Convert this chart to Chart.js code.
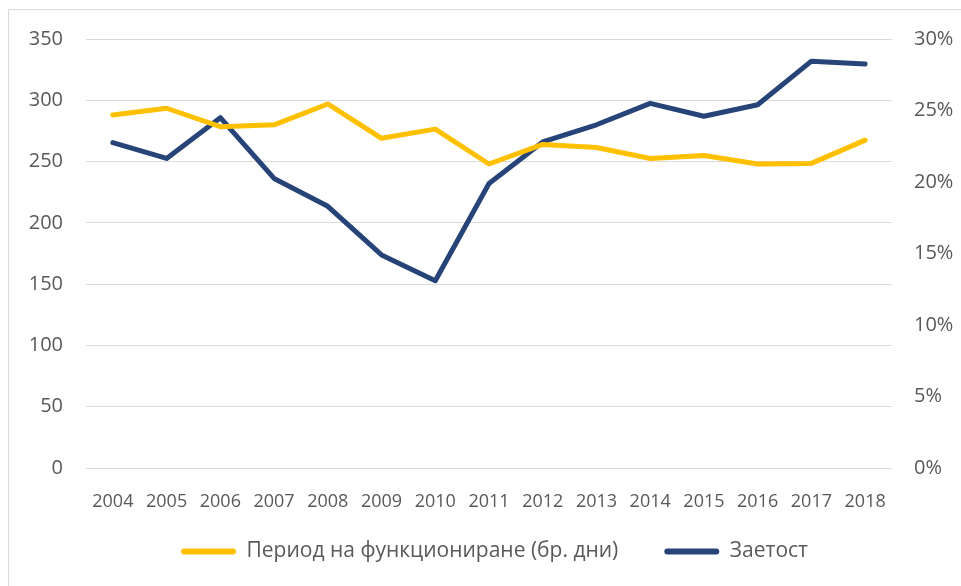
<!DOCTYPE html>
<html>
<head>
<meta charset="utf-8">
<script src="https://cdn.jsdelivr.net/npm/chart.js@4/dist/chart.umd.min.js"></script>
<style>
  html, body { margin: 0; padding: 0; background: #fff; }
  #wrap { position: relative; width: 961px; height: 586px; overflow: hidden; }
  #frame { position: absolute; left: 8px; top: 9px; width: 1000px; height: 700px; border: 1px solid #d9d9d9; box-sizing: border-box; }
  canvas { position: absolute; left: 0; top: 0; }
</style>
</head>
<body>
<div id="wrap">
  <div id="frame"></div>
  <canvas id="c" width="961" height="586"></canvas>
</div>
<script>
const years = ["2004","2005","2006","2007","2008","2009","2010","2011","2012","2013","2014","2015","2016","2017","2018"];
const periodDays = [288, 293.5, 278.5, 280, 297, 269, 276.5, 248, 264, 261.5, 252.5, 255, 248, 248.5, 267.5];
const occupancy = [0.2275, 0.2165, 0.245, 0.2025, 0.183, 0.149, 0.131, 0.199, 0.228, 0.24, 0.255, 0.246, 0.254, 0.2845, 0.2825];
const seriesNames = ["Период на функциониране (бр. дни)", "Заетост"];

const textColor = "#595959";
const gridColor = "#d9d9d9";

const legendShift = {
  id: "legendShift",
  beforeDraw(chart) {
    const lg = chart.legend;
    if (lg && !lg._shifted) { lg.top -= 14; lg.bottom -= 14; lg._shifted = true; }
  },
  afterUpdate(chart) { if (chart.legend) chart.legend._shifted = false; }
};

new Chart(document.getElementById("c"), {
  type: "line",
  data: {
    labels: years,
    datasets: [
      {
        label: seriesNames[0],
        data: periodDays,
        yAxisID: "y",
        borderColor: "#FFC000",
        backgroundColor: "#FFC000",
        borderWidth: 5,
        pointRadius: 0,
        borderCapStyle: "round",
        borderJoinStyle: "round",
        tension: 0
      },
      {
        label: seriesNames[1],
        data: occupancy,
        yAxisID: "y1",
        borderColor: "#264478",
        backgroundColor: "#264478",
        borderWidth: 5,
        pointRadius: 0,
        borderCapStyle: "round",
        borderJoinStyle: "round",
        tension: 0
      }
    ]
  },
  plugins: [legendShift],
  options: {
    responsive: false,
    animation: false,
    layout: { padding: { top: 39, left: 28, right: 0, bottom: 0 } },
    plugins: {
      tooltip: { enabled: false },
      legend: {
        position: "bottom",
        labels: {
          color: textColor,
          font: { family: "'Open Sans'", size: 21 },
          boxWidth: 55,
          boxHeight: 6,
          padding: 46,
          useBorderRadius: true,
          borderRadius: 3,
          generateLabels: (chart) =>
            Chart.defaults.plugins.legend.labels.generateLabels(chart).map(l => Object.assign(l, { lineWidth: 0 }))
        }
      }
    },
    scales: {
      x: {
        offset: true,
        grid: { display: false, drawTicks: false },
        border: { display: false },
        ticks: {
          color: textColor,
          font: { family: "'Open Sans'", size: 18 },
          padding: 23,
          maxRotation: 0,
          autoSkip: false
        },
        afterFit: (s) => { s.height = 41; }
      },
      y: {
        position: "left",
        min: 0,
        max: 350,
        grid: { color: gridColor, lineWidth: 1, drawTicks: false },
        border: { display: false },
        ticks: {
          stepSize: 50,
          color: textColor,
          font: { family: "'Open Sans'", size: 20 },
          padding: 23
        },
        afterFit: (s) => { s.width = 58; }
      },
      y1: {
        position: "right",
        min: 0,
        max: 0.3,
        grid: { display: false, drawTicks: false },
        border: { display: false },
        ticks: {
          stepSize: 0.05,
          color: textColor,
          font: { family: "'Open Sans'", size: 20 },
          padding: 22,
          callback: (v) => Math.round(v * 100) + "%"
        },
        afterFit: (s) => { s.width = 69; }
      }
    }
  }
});
</script>
</body>
</html>
